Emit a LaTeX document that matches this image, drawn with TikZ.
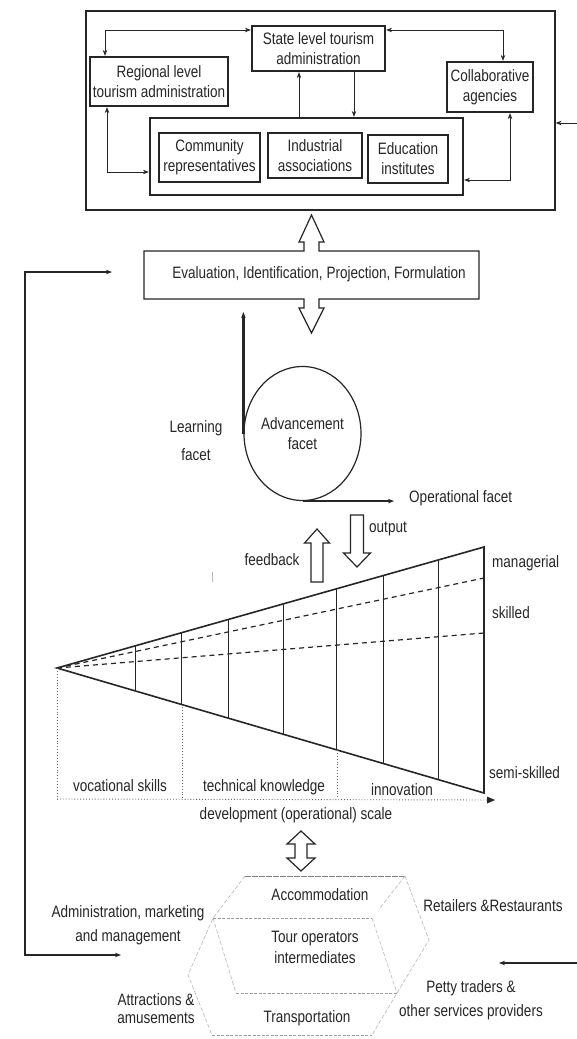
\documentclass[tikz,border=0pt]{standalone}
\usepackage{fontspec}
\setmainfont{Liberation Sans}[FakeStretch=0.82]
\usetikzlibrary{arrows.meta,shapes.geometric,calc}
\definecolor{ink}{gray}{0.15}
\definecolor{faint}{gray}{0.72}
\begin{document}
\begin{tikzpicture}[x=1pt,y=-1pt,
  font=\fontsize{16.5}{20}\selectfont,
  >={Stealth[length=6pt,width=4.5pt]},
  every node/.style={text=ink, inner sep=0pt},
  hbox/.style={draw=ink, line width=2.2pt, align=center},
  ibox/.style={draw=ink, line width=1.1pt, align=center},
  lbl/.style={align=center},
  con/.style={draw=ink, line width=0.9pt},
  bold/.style={draw=ink, line width=2.2pt},
  hollow/.style={draw=ink, line width=1.2pt, fill=white},
  fanline/.style={draw=ink, line width=1.6pt},
  fanv/.style={draw=ink, line width=1pt},
  dashline/.style={draw=ink, line width=1.2pt, dash pattern=on 5pt off 4pt},
  dotline/.style={draw=ink!70, line width=0.9pt, dotted},
  hexline/.style={draw=faint, line width=0.6pt, dash pattern=on 4pt off 2pt}]
\useasboundingbox (0,0) rectangle (577,1039);
\fill[white] (0,0) rectangle (577,1039);

% ---------- top block ----------
\node[draw=ink, line width=1.2pt, minimum width=469pt, minimum height=199pt] (outer) at (320.5,110.5) {};
\node[hbox, minimum width=133pt, minimum height=45pt] (state) at (318.5,48.5) {State level tourism\\administration};
\node[hbox, minimum width=138pt, minimum height=49pt] (region) at (159,81.5) {Regional level\\tourism administration};
\node[hbox, minimum width=86pt, minimum height=50pt] (collab) at (490,87) {Collaborative\\agencies};
\node[hbox, minimum width=313pt, minimum height=77pt] (cont) at (306.5,156.5) {};
\node[ibox, minimum width=101pt, minimum height=49pt] (comm) at (209.5,157.5) {Community\\representatives};
\node[ibox, minimum width=94pt, minimum height=45pt] (indu) at (315,155.5) {Industrial\\associations};
\node[ibox, minimum width=80pt, minimum height=48pt] (educ) at (408,159) {Education\\institutes};

\coordinate (y30) at (0,30);
\coordinate (x105) at (105,0);
\coordinate (x107) at (107,0);
\coordinate (x503) at (503,0);
\coordinate (x510) at (510,0);
\coordinate (x299) at (299,0);
\coordinate (x354) at (354,0);
\coordinate (y172) at (0,172);
\coordinate (y180) at (0,180);
\coordinate (inR) at (577,123);

\draw[con,<->] (state.west |- y30) -| (region.north -| x105);
\draw[con,<->] (state.east |- y30) -| (collab.north -| x503);
\draw[con,->] (cont.north -| x299) -- (state.south -| x299);
\draw[con,->] (state.south -| x354) -- (cont.north -| x354);
\draw[con,<->] (region.south -| x107) |- (cont.west |- y172);
\draw[con,<->] (collab.south -| x510) |- (cont.east |- y180);
\draw[con,->] (inR) -- (outer.east |- inR);

% ---------- evaluation box with double arrow ----------
\draw[hollow] (144,251) -- (304,251) -- (304,242) -- (299,242) -- (311.5,215) -- (324,242) -- (319,242) -- (319,251)
  -- (479,251) -- (479,299) -- (319,299) -- (319,308) -- (324,308) -- (311.5,333) -- (299,308) -- (304,308)
  -- (304,299) -- (144,299) -- cycle;
\node[lbl] (eval) at (319,274) {Evaluation, Identification, Projection, Formulation};

% ---------- facets ----------
\node[draw=ink, line width=1.2pt, ellipse, minimum width=105pt, minimum height=134pt, align=center] (adv) at (302.5,433.5) {Advancement\\facet};
\coordinate (y312) at (0,312);
\draw[bold,->] (adv.west) -- (adv.west |- y312);
\node[lbl] (learn) at (196,441) {Learning\\[8pt]facet};
\node[lbl, anchor=west] (op) at (409,498) {Operational facet};
\draw[bold,->,shorten >=15pt] (adv.south) -- (adv.south -| op.west);

% feedback / output hollow arrows
\draw[hollow] (317,529) -- (329.5,543) -- (323,543) -- (323,582) -- (311,582) -- (311,543) -- (304.5,543) -- cycle;
\draw[hollow] (350.5,515) -- (363.5,515) -- (363.5,553) -- (370.5,553) -- (357,567) -- (343.5,553) -- (350.5,553) -- cycle;
\node[lbl] (fb) at (272,560) {feedback};
\node[lbl, anchor=west] (out) at (369,529) {output};
\draw[faint, line width=0.8pt] (212,572) -- (212,582);

% ---------- fan ----------
\coordinate (apex) at (57,668);
\coordinate (tr) at (484,547);
\coordinate (br) at (484,793);
\coordinate (dA) at (484,578);
\coordinate (dB) at (484,633);
\draw[dashline] (apex) -- (dA);
\draw[dashline] (apex) -- (dB);
\foreach \t in {0.1827,0.2927,0.4005,0.5293,0.6557,0.7658,0.8923}
  \draw[fanv] ($(apex)!\t!(tr)$) -- ($(apex)!\t!(br)$);
\draw[fanline, line join=miter] (tr) -- (apex) -- (br) -- cycle;
\coordinate (ax0) at (57,799);
\coordinate (ax1) at (491,800);
\coordinate (b2) at ($(apex)!0.2927!(br)$);
\coordinate (b5) at ($(apex)!0.6557!(br)$);
\draw[dotline] (apex) -- (apex |- ax0);
\draw[dotline] (b2) -- (b2 |- ax0);
\draw[dotline] (b5) -- (b5 |- ax0);
\draw[dotline] (ax0) -- (ax1);
\fill[ink] (ax1) ++(4,0) -- ++(-8,-3.5) -- ++(0,7) -- cycle;

\node[lbl, anchor=west] (mg) at (492,563) {managerial};
\node[lbl, anchor=west] (sk) at (492,613) {skilled};
\node[lbl, anchor=west] (ss) at (489,773) {semi-skilled};
\node[lbl] (voc) at (120,786) {vocational skills};
\node[lbl] (tech) at (264,787) {technical knowledge};
\node[lbl] (inno) at (402,790) {innovation};
\node[lbl] (scale) at (296,815) {development (operational) scale};

% ---------- bottom double arrow ----------
\draw[hollow] (301,831) -- (315,844) -- (307,844) -- (307,858) -- (315,858) -- (301,871) -- (287,858) -- (295,858)
  -- (295,844) -- (287,844) -- cycle;

% ---------- bottom stacked shape ----------
\draw[draw=gray, line width=0.9pt, dash pattern=on 6pt off 1pt] (245,876) -- (405,876);
\draw[hexline] (245,876) -- (213,918) -- (188,975) -- (212,1035);
\draw[hexline] (405,876) -- (429,940) -- (397,993) -- (372,1035);
\draw[hexline] (405,876) -- (380,908);
\draw[hexline] (213,918) -- (236,993);
\draw[hexline] (372,918) -- (397,993);
\draw[draw=faint!85!black, line width=0.8pt, dash pattern=on 3pt off 1.5pt] (213,918) -- (372,918);
\draw[draw=faint!85!black, line width=0.8pt, dash pattern=on 3pt off 1.5pt] (236,993) -- (397,993);
\draw[draw=faint!85!black, line width=0.8pt, dash pattern=on 3pt off 1.5pt] (212,1035) -- (372,1035);

\node[lbl] (acc) at (320,895) {Accommodation};
\node[lbl] (tour) at (315,947) {Tour operators\\[1pt]intermediates};
\node[lbl] (trans) at (307,1018) {Transportation};
\node[lbl] (adm) at (128,925) {Administration, marketing\\[4pt]and management};
\node[lbl] (ret) at (493,906) {Retailers \&Restaurants};
\node[lbl] (attr) at (156,1009) {Attractions \&\\[-2pt]amusements};
\node[lbl] (petty) at (471,1000) {Petty traders \&\\[4pt]other services providers};

% ---------- long feedback line and side arrows ----------
\coordinate (fbTop) at (112,272);
\coordinate (fbBot) at (121,955);
\draw[con, line width=1.1pt, <->] (fbTop) -- (25,272) -- (25,955) -- (fbBot);
\coordinate (inP) at (577,963);
\coordinate (petIn) at (499,963);
\draw[con, line width=1.1pt, ->] (inP) -- (petIn);
\end{tikzpicture}
\end{document}
